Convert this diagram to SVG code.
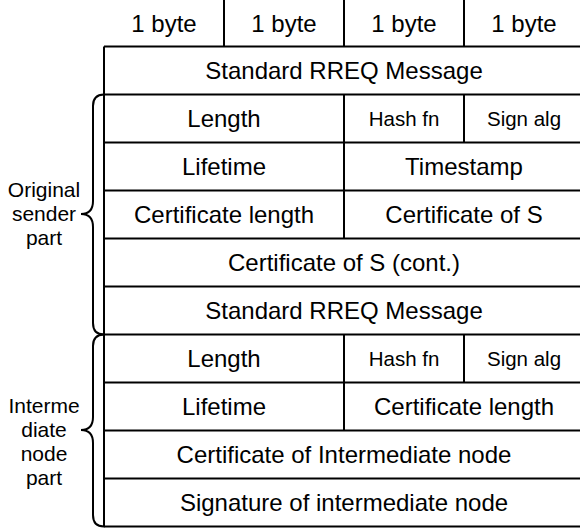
<svg xmlns="http://www.w3.org/2000/svg" width="580" height="529" viewBox="0 0 580 529">
  <style>
    .grid { stroke: #000; stroke-width: 2; fill: none; }
    .brace { stroke: #000; stroke-width: 2; fill: none; stroke-linecap: round; }
    text { font-family: "Liberation Sans", Arial, sans-serif; fill: #000; text-anchor: middle; }
    .f { font-size: 24px; }
    .s { font-size: 20.5px; }
    .side { font-size: 21px; }
  </style>
  <rect width="580" height="529" fill="#fff"/>

  <!-- header: byte widths -->
  <g id="header">
    <path class="grid" d="M224,0V46.5M344,0V46.5M464,0V46.5"/>
    <text class="f" x="164" y="31.5">1 byte</text>
    <text class="f" x="284" y="31.5">1 byte</text>
    <text class="f" x="404" y="31.5">1 byte</text>
    <text class="f" x="524" y="31.5">1 byte</text>
  </g>

  <!-- table frame and row separators -->
  <g id="frame">
    <path class="grid" d="M104,46.5H584M104,94.5H584M104,142.5H584M104,190.5H584M104,238.5H584M104,286.5H584M104,334.5H584M104,382.5H584M104,430.5H584M104,478.5H584M104,526.5H584"/>
    <path class="grid" d="M104,46.5V526.5"/>
    <!-- column splits -->
    <path class="grid" d="M344,94.5V142.5M464,94.5V142.5M344,142.5V190.5M344,190.5V238.5M344,334.5V382.5M464,334.5V382.5M344,382.5V430.5"/>
  </g>

  <g id="row-rreq1">
    <text class="f" x="344" y="79">Standard RREQ Message</text>
  </g>
  <g id="row-len1">
    <text class="f" x="224" y="127">Length</text>
    <text class="s" x="404" y="125.5">Hash fn</text>
    <text class="s" x="524" y="125.5">Sign alg</text>
  </g>
  <g id="row-life1">
    <text class="f" x="224" y="175">Lifetime</text>
    <text class="f" x="464" y="175">Timestamp</text>
  </g>
  <g id="row-cert1">
    <text class="f" x="224" y="223">Certificate length</text>
    <text class="f" x="464" y="223">Certificate of S</text>
  </g>
  <g id="row-certcont">
    <text class="f" x="344" y="271">Certificate of S (cont.)</text>
  </g>
  <g id="row-rreq2">
    <text class="f" x="344" y="319">Standard RREQ Message</text>
  </g>
  <g id="row-len2">
    <text class="f" x="224" y="367">Length</text>
    <text class="s" x="404" y="365.5">Hash fn</text>
    <text class="s" x="524" y="365.5">Sign alg</text>
  </g>
  <g id="row-life2">
    <text class="f" x="224" y="415">Lifetime</text>
    <text class="f" x="464" y="415">Certificate length</text>
  </g>
  <g id="row-certint">
    <text class="f" x="344" y="463">Certificate of Intermediate node</text>
  </g>
  <g id="row-sig">
    <text class="f" x="344" y="511">Signature of intermediate node</text>
  </g>

  <!-- braces grouping the two parts -->
  <g id="connectors">
    <path class="brace" d="M104,94.5C97,94.5 93,98 93,106V201C93,209 89,214 81,214C89,214 93,219 93,227V323C93,331 97,334.5 104,334.5"/>
    <path class="brace" d="M104,334.5C97,334.5 93,338 93,346V417C93,425 89,430 81,430C89,430 93,435 93,443V515C93,523 97,526.5 104,526.5"/>
  </g>

  <g id="label-sender">
    <text class="side" x="44" y="197">Original</text>
    <text class="side" x="44" y="221">sender</text>
    <text class="side" x="44" y="245">part</text>
  </g>
  <g id="label-intermediate">
    <text class="side" x="44" y="413">Interme</text>
    <text class="side" x="44" y="437">diate</text>
    <text class="side" x="44" y="461">node</text>
    <text class="side" x="44" y="485">part</text>
  </g>
</svg>
